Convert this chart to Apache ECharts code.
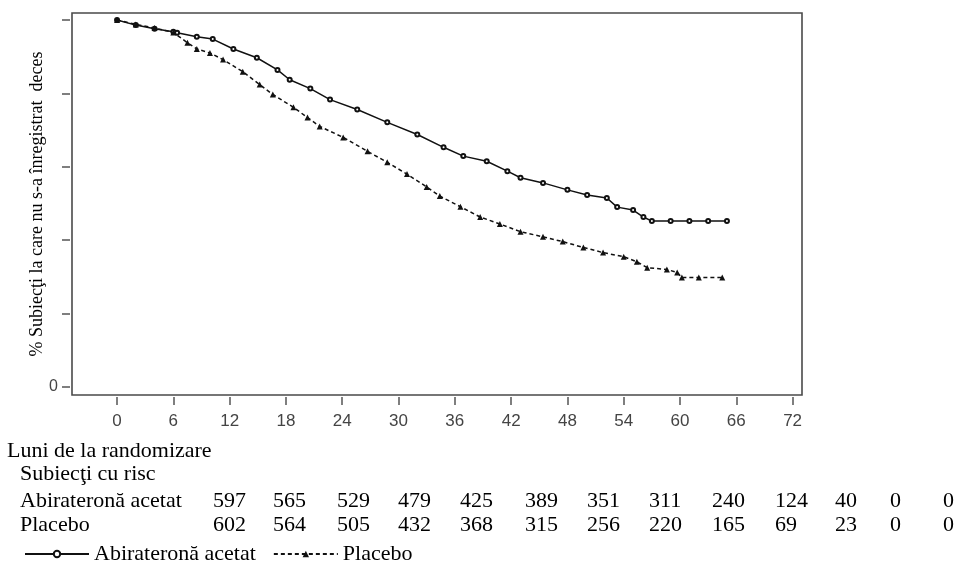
<!DOCTYPE html>
<html>
<head>
<meta charset="utf-8">
<style>
  html, body { margin: 0; padding: 0; background: #fff; }
  #main { width: 967px; height: 569px; }
</style>
<script src="https://cdn.jsdelivr.net/npm/echarts@6/dist/echarts.min.js"></script>
</head>
<body>
<div id="main"></div>
<script>
// curba Kaplan-Meier (luni, % supravietuire)
var abiMonths = [0, 2, 4, 6, 6.4, 8.5, 10.2, 12.4, 14.9, 17.1, 18.4, 20.6, 22.7, 25.6, 28.8, 32, 34.8, 36.9, 39.4, 41.6, 43, 45.4, 48, 50.1, 52.2, 53.3, 55, 56.1, 57, 59, 61, 63, 65];
var abiSurv = [100, 98.6, 97.6, 96.8, 96.5, 95.4, 94.8, 92.1, 89.7, 86.4, 83.7, 81.3, 78.3, 75.6, 72.1, 68.8, 65.3, 62.9, 61.5, 58.8, 57, 55.6, 53.7, 52.3, 51.5, 49, 48.2, 46.3, 45.2, 45.2, 45.2, 45.2, 45.2];
var placeboMonths = [0, 2, 4, 6, 7.5, 8.5, 9.9, 11.3, 13.4, 15.2, 16.6, 18.8, 20.3, 21.6, 24.1, 26.7, 28.8, 30.9, 33, 34.4, 36.6, 38.7, 40.8, 43, 45.4, 47.5, 49.7, 51.8, 54, 55.4, 56.5, 58.6, 59.7, 60.2, 62, 64.5];
var placeboSurv = [100, 98.8, 97.8, 96.6, 93.8, 92.1, 91, 89.2, 85.9, 82.4, 79.7, 76.2, 73.4, 71, 68, 64.2, 61.2, 58, 54.5, 52, 49.1, 46.3, 44.4, 42.3, 40.9, 39.6, 38, 36.6, 35.5, 34.1, 32.5, 32, 31.2, 29.8, 29.8, 29.8];

var xTicks = [0, 6, 12, 18, 24, 30, 36, 42, 48, 54, 60, 66, 72];
var yTicks = [0, 20, 40, 60, 80, 100];
var yLabels = [0];

// subiecti cu risc
var riskAbi = [597, 565, 529, 479, 425, 389, 351, 311, 240, 124, 40, 0, 0];
var riskPlacebo = [602, 564, 505, 432, 368, 315, 256, 220, 165, 69, 23, 0, 0];

var seriesNames = ['Abirateronă acetat', 'Placebo'];

// pozitii coloane tabel (layout)
var colX = [213, 273, 337, 398, 460, 525, 587, 649, 712, 775, 835, 890, 943];
var serif = '"Liberation Serif", "DejaVu Serif", serif';
var sans = '"Liberation Sans", Arial, sans-serif';

function zip(a, b) {
  return a.map(function (v, i) { return [v, b[i]]; });
}

function txt(x, y, s) {
  return {
    type: 'text',
    x: x,
    y: y,
    style: { text: s, fill: '#000', font: '22px ' + serif, verticalAlign: 'middle' }
  };
}

var graphics = [
  txt(7, 451, 'Luni de la randomizare'),
  txt(20, 474, 'Subiecţi cu risc'),
  txt(20, 501, seriesNames[0]),
  txt(20, 525, seriesNames[1])
];
riskAbi.forEach(function (v, i) { graphics.push(txt(colX[i], 501, String(v))); });
riskPlacebo.forEach(function (v, i) { graphics.push(txt(colX[i], 525, String(v))); });

var myChart = echarts.init(document.getElementById('main'));
myChart.setOption({
  backgroundColor: '#fff',
  animation: false,
  grid: {
    left: 72, top: 13, width: 730, height: 382,
    show: true, borderColor: '#4a4a4a', borderWidth: 1.6, backgroundColor: 'transparent'
  },
  legend: {
    left: 19, top: 538,
    itemWidth: 64, itemHeight: 8, itemGap: 17,
    textStyle: { fontFamily: serif, fontSize: 22, color: '#000' },
    data: seriesNames
  },
  xAxis: {
    type: 'value', min: -4.8, max: 73, offset: 2,
    splitLine: { show: false },
    axisLine: { show: false, onZero: false },
    axisTick: { show: true, length: 8, customValues: xTicks, lineStyle: { color: '#555', width: 1.5 } },
    axisLabel: { customValues: xTicks, margin: 16, fontFamily: sans, fontSize: 17, color: '#444' }
  },
  yAxis: {
    type: 'value', min: -2.2, max: 101.9, offset: 2,
    name: '% Subiecţi la care nu s-a înregistrat  deces',
    nameLocation: 'middle', nameGap: 24, nameMoveOverlap: false,
    nameTextStyle: { fontFamily: serif, fontSize: 18, color: '#000' },
    splitLine: { show: false },
    axisLine: { show: false, onZero: false },
    axisTick: { show: true, length: 8, customValues: yTicks, lineStyle: { color: '#555', width: 1.5 } },
    axisLabel: { customValues: yLabels, margin: 12, fontFamily: sans, fontSize: 16, color: '#444' }
  },
  series: [
    {
      name: seriesNames[0],
      type: 'line',
      data: zip(abiMonths, abiSurv),
      symbol: 'emptyCircle', symbolSize: 4,
      lineStyle: { color: '#111', width: 1.5 },
      itemStyle: { color: '#111', borderWidth: 1 }
    },
    {
      name: seriesNames[1],
      type: 'line',
      data: zip(placeboMonths, placeboSurv),
      symbol: 'triangle', symbolSize: 6,
      lineStyle: { color: '#111', width: 1.5, type: [4, 3] },
      itemStyle: { color: '#111' }
    }
  ],
  graphic: graphics
});
</script>
</body>
</html>
